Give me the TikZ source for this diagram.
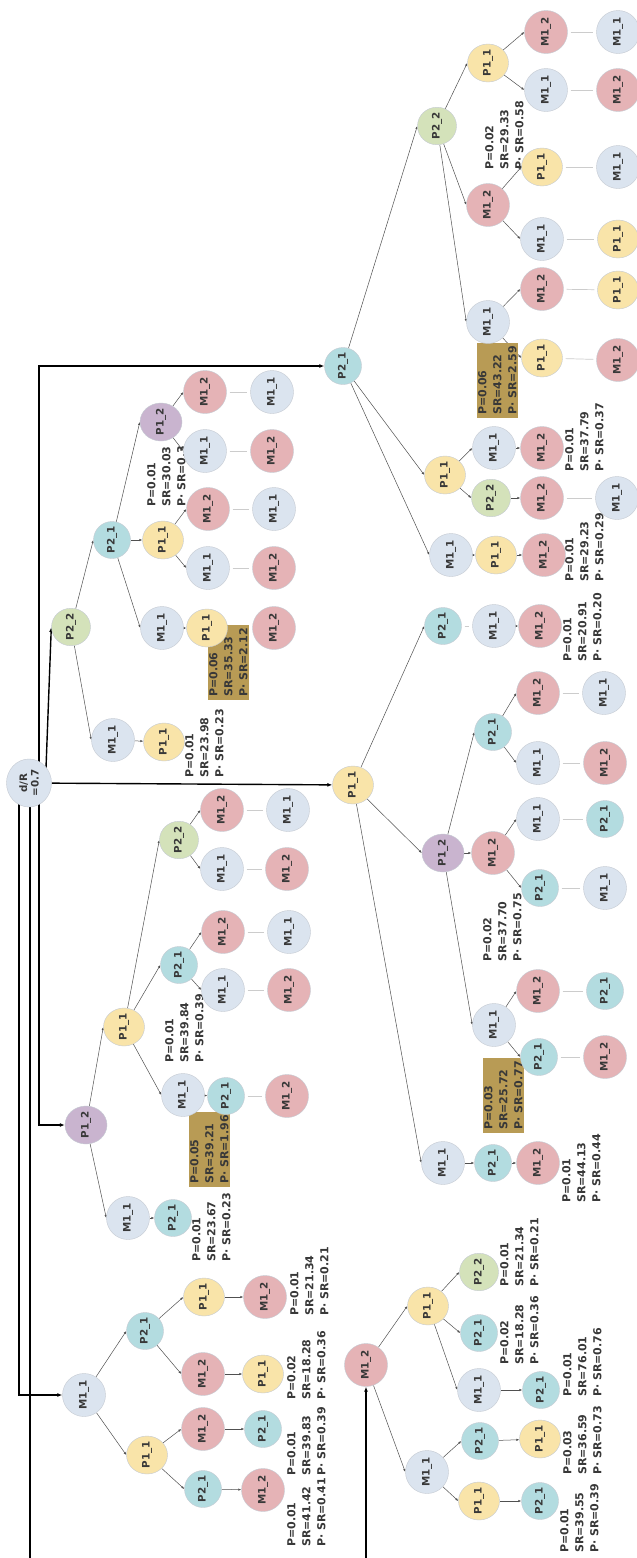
\documentclass[tikz,border=0pt]{standalone}
\usepackage{fontspec}
\usepackage{graphicx}
\setmainfont{DejaVu Sans}
\usetikzlibrary{shapes.geometric,arrows.meta,calc}
\definecolor{cMa}{HTML}{DBE4EF}
\definecolor{cMb}{HTML}{E5B3B6}
\definecolor{cPa}{HTML}{F9E4A9}
\definecolor{cPb}{HTML}{B3DCE0}
\definecolor{cPc}{HTML}{D4E2BA}
\definecolor{cPd}{HTML}{C9B4CF}
\definecolor{gold}{HTML}{B89B55}
\definecolor{txt}{HTML}{383838}
\definecolor{edgec}{HTML}{505050}
\definecolor{linkc}{HTML}{CCCCCC}
\definecolor{bordc}{HTML}{C4CAD2}
\pgfdeclarelayer{bg}
\pgfdeclarelayer{lb}
\pgfsetlayers{bg,lb,main}
\newcommand\nt[1]{\rotatebox{90}{\makebox[4pt]{#1}}}
\newcommand\mynode[4]{\node[#1] (#2) at (#3) {\nt{#4}};}
\newcommand\PSR{P·~SR}
\tikzset{
  nd/.style={ellipse, inner sep=0pt, draw=bordc, line width=0.4pt, text=txt, font=\fontsize{10.3}{12}\selectfont\bfseries},
  Ma/.style={nd, fill=cMa, minimum width=43pt, minimum height=43pt},
  Mb/.style={nd, fill=cMb, minimum width=43pt, minimum height=43pt},
  Pa/.style={nd, fill=cPa, minimum width=41pt, minimum height=38pt},
  Pb/.style={nd, fill=cPb, minimum width=37pt, minimum height=37pt},
  Pc/.style={nd, fill=cPc, minimum width=39pt, minimum height=37.5pt},
  Pd/.style={nd, fill=cPd, minimum width=42pt, minimum height=38pt},
  rootnd/.style={nd, fill=cMa, minimum width=45pt, minimum height=48pt},
  ed/.style={draw=edgec, line width=0.5pt, -{Latex[length=3pt,width=2.4pt]}},
  lk/.style={draw=linkc, line width=0.7pt, shorten <=3pt, shorten >=3pt},
  thk/.style={draw=black, line width=1.4pt, -{Latex[length=5pt,width=4pt]}},
  lab/.style={rotate=90, anchor=north west, inner sep=0pt, align=left, text=txt, font=\fontsize{11}{15}\selectfont\bfseries},
  gbox/.style={lab, fill=gold, inner xsep=3pt, inner ysep=1pt},
}
\begin{document}
\begin{tikzpicture}[x=1pt,y=-1pt]
\path[use as bounding box] (0,0) rectangle (637,1558);
\clip (0,0) rectangle (637,1558);
% root
\node[rootnd] (dR) at (29,783) {\rotatebox{90}{\makebox[4pt]{\shortstack{d/R\\=0.7}}}};
% region A
\mynode{Ma}{a0}{84,1395}{M1\_1}
\mynode{Pb}{a1}{145,1331}{P2\_1}
\mynode{Pa}{a2}{147,1455}{P1\_1}
\mynode{Pa}{a3}{204,1297}{P1\_1}
\mynode{Mb}{a4}{203,1374}{M1\_2}
\mynode{Mb}{a5}{203,1429}{M1\_2}
\mynode{Pb}{a6}{203,1489}{P2\_1}
\mynode{Mb}{a7}{265,1297}{M1\_2}
\mynode{Pa}{a8}{263,1374}{P1\_1}
\mynode{Pb}{a9}{263,1429}{P2\_1}
\mynode{Mb}{a10}{263,1490}{M1\_2}
% region B
\mynode{Pd}{b0}{86,1125}{P1\_2}
\mynode{Pa}{b1}{124,1027}{P1\_1}
\mynode{Ma}{b2}{128,1218}{M1\_1}
\mynode{Pb}{b3}{173,1218}{P2\_1}
\mynode{Pc}{b4}{179,840}{P2\_2}
\mynode{Pb}{b5}{179,965}{P2\_1}
\mynode{Ma}{b6}{183,1095}{M1\_1}
\mynode{Mb}{b7}{222,810}{M1\_2}
\mynode{Ma}{b8}{222,869}{M1\_1}
\mynode{Mb}{b9}{223,932}{M1\_2}
\mynode{Ma}{b10}{223,990}{M1\_1}
\mynode{Pb}{b11}{226,1096}{P2\_1}
\mynode{Ma}{b12}{288,810}{M1\_1}
\mynode{Mb}{b13}{287,869}{M1\_2}
\mynode{Ma}{b14}{289,932}{M1\_1}
\mynode{Mb}{b15}{289,990}{M1\_2}
\mynode{Mb}{b16}{287,1096}{M1\_2}
% region C
\mynode{Pc}{c0}{71,627}{P2\_2}
\mynode{Pb}{c1}{112,540}{P2\_1}
\mynode{Ma}{c2}{113,740}{M1\_1}
\mynode{Pa}{c3}{164,742}{P1\_1}
\mynode{Pd}{c4}{161,422}{P1\_2}
\mynode{Pa}{c5}{163,540}{P1\_1}
\mynode{Ma}{c6}{162,628}{M1\_1}
\mynode{Pa}{c7}{207,628}{P1\_1}
\mynode{Mb}{c8}{205,392}{M1\_2}
\mynode{Ma}{c9}{205,451}{M1\_1}
\mynode{Mb}{c10}{208,509}{M1\_2}
\mynode{Ma}{c11}{208,568}{M1\_1}
\mynode{Ma}{c12}{272,392}{M1\_1}
\mynode{Mb}{c13}{272,451}{M1\_2}
\mynode{Ma}{c14}{274,509}{M1\_1}
\mynode{Mb}{c15}{274,568}{M1\_2}
\mynode{Mb}{c16}{274,628}{M1\_2}
% region D
\mynode{Pa}{d0}{353,785}{P1\_1}
\mynode{Pb}{d1}{443,626}{P2\_1}
\mynode{Ma}{d2}{494,626}{M1\_1}
\mynode{Mb}{d3}{540,626}{M1\_2}
\mynode{Pd}{d4}{443,853}{P1\_2}
\mynode{Mb}{d5}{493,853}{M1\_2}
\mynode{Pb}{d6}{493,732}{P2\_1}
\mynode{Mb}{d7}{538,693}{M1\_2}
\mynode{Ma}{d8}{538,763}{M1\_1}
\mynode{Ma}{d9}{604,693}{M1\_1}
\mynode{Mb}{d10}{605,763}{M1\_2}
\mynode{Ma}{d11}{538,819}{M1\_1}
\mynode{Pb}{d12}{605,819}{P2\_1}
\mynode{Pb}{d13}{540,888}{P2\_1}
\mynode{Ma}{d14}{605,888}{M1\_1}
\mynode{Ma}{d15}{494,1025}{M1\_1}
\mynode{Mb}{d16}{538,991}{M1\_2}
\mynode{Pb}{d17}{605,991}{P2\_1}
\mynode{Pb}{d18}{539,1057}{P2\_1}
\mynode{Mb}{d19}{605,1057}{M1\_2}
\mynode{Ma}{d20}{443,1163}{M1\_1}
\mynode{Pb}{d21}{493,1163}{P2\_1}
\mynode{Mb}{d22}{538,1163}{M1\_2}
% region E
\mynode{Pb}{e0}{343,366}{P2\_1}
\mynode{Pc}{e1}{437,126}{P2\_2}
\mynode{Pa}{e2}{445,475}{P1\_1}
\mynode{Ma}{e3}{451,555}{M1\_1}
\mynode{Pa}{e4}{488,63}{P1\_1}
\mynode{Mb}{e5}{488,205}{M1\_2}
\mynode{Ma}{e6}{488,322}{M1\_1}
\mynode{Mb}{e7}{546,32}{M1\_2}
\mynode{Ma}{e8}{546,90}{M1\_1}
\mynode{Pa}{e9}{542,167}{P1\_1}
\mynode{Ma}{e10}{542,239}{M1\_1}
\mynode{Mb}{e11}{542,289}{M1\_2}
\mynode{Pa}{e12}{542,358}{P1\_1}
\mynode{Ma}{e13}{618,32}{M1\_1}
\mynode{Mb}{e14}{618,90}{M1\_2}
\mynode{Ma}{e15}{618,167}{M1\_1}
\mynode{Pa}{e16}{618,239}{P1\_1}
\mynode{Pa}{e17}{618,290}{P1\_1}
\mynode{Mb}{e18}{618,360}{M1\_2}
\mynode{Ma}{e19}{494,448}{M1\_1}
\mynode{Mb}{e20}{542,448}{M1\_2}
\mynode{Pc}{e21}{491,498}{P2\_2}
\mynode{Mb}{e22}{542,498}{M1\_2}
\mynode{Ma}{e23}{617,498}{M1\_1}
\mynode{Pa}{e24}{496,555}{P1\_1}
\mynode{Mb}{e25}{544,555}{M1\_2}
% region F
\mynode{Mb}{f0}{366,1365}{M1\_2}
\mynode{Pa}{f1}{428,1306}{P1\_1}
\mynode{Ma}{f2}{427,1472}{M1\_1}
\mynode{Pc}{f3}{479,1272}{P2\_2}
\mynode{Pb}{f4}{479,1333}{P2\_1}
\mynode{Ma}{f5}{479,1390}{M1\_1}
\mynode{Pb}{f6}{541,1390}{P2\_1}
\mynode{Pb}{f7}{480,1441}{P2\_1}
\mynode{Pa}{f8}{540,1439}{P1\_1}
\mynode{Pa}{f9}{479,1501}{P1\_1}
\mynode{Pb}{f10}{540,1501}{P2\_1}
% labels
\begin{pgfonlayer}{lb}
\node[lab] (la1) at (287,1547) {P=0.01\\SR=41.42\\\PSR=0.41};
\node[lab] (la2) at (287,1476) {P=0.01\\SR=39.83\\\PSR=0.39};
\node[lab] (la3) at (287,1400) {P=0.02\\SR=18.28\\\PSR=0.36};
\node[lab] (la4) at (290,1316) {P=0.01\\SR=21.34\\\PSR=0.21};
\node[lab] (lb1) at (165,1063) {P=0.01\\SR=39.84\\\PSR=0.39};
\node[gbox] (lb2) at (189,1187) {P=0.05\\SR=39.21\\\PSR=1.96};
\node[lab] (lb3) at (192,1262) {P=0.01\\SR=23.67\\\PSR=0.23};
\node[lab] (lc1) at (147,507) {P=0.01\\SR=30.03\\\PSR=0.3};
\node[gbox] (lc2) at (208,700) {P=0.06\\SR=35.33\\\PSR=2.12};
\node[lab] (lc3) at (185,778) {P=0.01\\SR=23.98\\\PSR=0.23};
\node[lab] (ld1) at (563,662) {P=0.01\\SR=20.91\\\PSR=0.20};
\node[lab] (ld2) at (483,962) {P=0.02\\SR=37.70\\\PSR=0.75};
\node[gbox] (ld3) at (483,1133) {P=0.03\\SR=25.72\\\PSR=0.77};
\node[lab] (ld4) at (562,1203) {P=0.01\\SR=44.13\\\PSR=0.44};
\node[gbox] (le1) at (477,418) {P=0.06\\SR=43.22\\\PSR=2.59};
\node[lab] (le2) at (485,170) {P=0.02\\SR=29.33\\\PSR=0.58};
\node[lab] (le3) at (565,472) {P=0.01\\SR=37.79\\\PSR=0.37};
\node[lab] (le4) at (565,582) {P=0.01\\SR=29.23\\\PSR=0.29};
\node[lab] (lf1) at (500,1287) {P=0.01\\SR=21.34\\\PSR=0.21};
\node[lab] (lf2) at (500,1365) {P=0.02\\SR=18.28\\\PSR=0.36};
\node[lab] (lf3) at (563,1397) {P=0.01\\SR=76.01\\\PSR=0.76};
\node[lab] (lf4) at (563,1475) {P=0.03\\SR=36.59\\\PSR=0.73};
\node[lab] (lf5) at (560,1553) {P=0.01\\SR=39.55\\\PSR=0.39};
\end{pgfonlayer}
% connectors
\begin{pgfonlayer}{bg}
\fill[white] (0,0) rectangle (637,1558);
% thick root lines
\draw[thk] ($(dR.center)+(10,0)$) |- (e0);
\draw[thk] ($(dR.center)+(17,-15)$) -- (c0.west);
\draw[thk] (dR) -- (d0);
\draw[thk] ($(dR.center)+(10,0)$) |- (b0);
\draw[thk] ($(dR.center)+(-10,0)$) |- (a0);
\draw[thk] ($(dR.center)+(1,0)$) |- ($(f0.center)+(0,260)$) -- (f0);
% A
\draw[ed] (a0) -- (a1.west); \draw[ed] (a0) -- (a2.west);
\draw[ed] (a1) -- (a3.west); \draw[ed] (a1) -- (a4.west);
\draw[ed] (a2) -- (a5.west); \draw[ed] (a2) -- (a6.west);
\draw[ed] (a3) -- (a7); \draw[ed] (a4) -- (a8); \draw[ed] (a5) -- (a9); \draw[ed] (a6) -- (a10);
% B
\draw[ed] (b0) -- (b1.west); \draw[ed] (b0) -- (b2.west); \draw[ed] (b2) -- (b3);
\draw[ed] (b1) -- (b4.west); \draw[ed] (b1) -- (b5.west); \draw[ed] (b1) -- (b6.west);
\draw[ed] (b4) -- (b7.west); \draw[ed] (b4) -- (b8.west);
\draw[ed] (b5) -- (b9.west); \draw[ed] (b5) -- (b10.west);
\draw[ed] (b6) -- (b11);
\draw[lk] (b7) -- (b12); \draw[lk] (b8) -- (b13); \draw[lk] (b9) -- (b14); \draw[lk] (b10) -- (b15); \draw[lk] (b11) -- (b16);
% C
\draw[ed] (c0) -- (c1.west); \draw[ed] (c0) -- (c2.west); \draw[ed] (c2) -- (c3);
\draw[ed] (c1) -- (c4.west); \draw[ed] (c1) -- (c5); \draw[ed] (c1) -- (c6.west);
\draw[ed] (c4) -- (c8.west); \draw[ed] (c4) -- (c9.west);
\draw[ed] (c5) -- (c10.west); \draw[ed] (c5) -- (c11.west);
\draw[ed] (c6) -- (c7);
\draw[lk] (c8) -- (c12); \draw[lk] (c9) -- (c13); \draw[lk] (c10) -- (c14); \draw[lk] (c11) -- (c15); \draw[lk] (c7) -- (c16);
% D
\draw[ed] (d0) -- (d1.west); \draw[ed] (d0) -- (d4.west); \draw[ed] (d0) -- (d20.west);
\draw[lk] (d1) -- (d2); \draw[ed] (d2) -- (d3);
\draw[ed] (d4) -- (d5); \draw[ed] (d4) -- (d6.west); \draw[ed] (d4) -- (d15.west);
\draw[ed] (d6) -- (d7.west); \draw[ed] (d6) -- (d8.west);
\draw[ed] (d5) -- (d11.west); \draw[ed] (d5) -- (d13.west);
\draw[ed] (d15) -- (d16.west); \draw[ed] (d15) -- (d18.west);
\draw[ed] (d20) -- (d21); \draw[ed] (d21) -- (d22);
\draw[lk] (d7) -- (d9); \draw[lk] (d8) -- (d10); \draw[lk] (d11) -- (d12); \draw[lk] (d13) -- (d14); \draw[lk] (d16) -- (d17); \draw[lk] (d18) -- (d19);
% E
\draw[ed] (e0) -- (e1.west); \draw[ed] (e0) -- (e2.west); \draw[ed] (e0) -- (e3.west);
\draw[ed] (e1) -- (e4.west); \draw[ed] (e1) -- (e5.west); \draw[ed] (e1) -- (e6.west);
\draw[ed] (e4) -- (e7.west); \draw[ed] (e4) -- (e8.west);
\draw[ed] (e5) -- (e9.west); \draw[ed] (e5) -- (e10.west);
\draw[ed] (e6) -- (e11.west); \draw[ed] (e6) -- (e12.west);
\draw[ed] (e2) -- (e19.west); \draw[ed] (e2) -- (e21.west);
\draw[ed] (e19) -- (e20); \draw[ed] (e21) -- (e22);
\draw[ed] (e3) -- (e24); \draw[ed] (e24) -- (e25);
\draw[lk] (e7) -- (e13); \draw[lk] (e8) -- (e14); \draw[lk] (e9) -- (e15); \draw[lk] (e10) -- (e16); \draw[lk] (e11) -- (e17); \draw[lk] (e12) -- (e18); \draw[lk] (e22) -- (e23);
% F
\draw[ed] (f0) -- (f1.west); \draw[ed] (f0) -- (f2.west);
\draw[ed] (f1) -- (f3.west); \draw[ed] (f1) -- (f4.west); \draw[ed] (f1) -- (f5.west);
\draw[ed] (f5) -- (f6);
\draw[ed] (f2) -- (f7.west); \draw[ed] (f2) -- (f9.west);
\draw[ed] (f7) -- (f8); \draw[ed] (f9) -- (f10);
\end{pgfonlayer}
\end{tikzpicture}
\end{document}
